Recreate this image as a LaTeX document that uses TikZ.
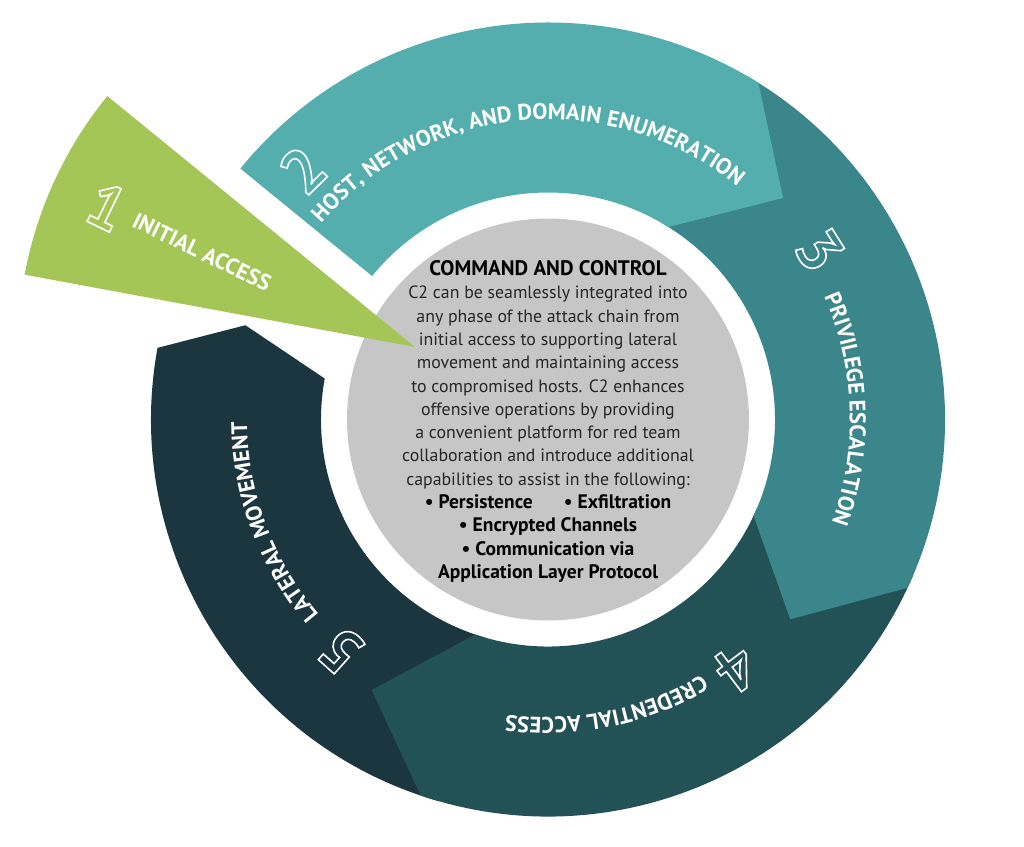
\documentclass[tikz,border=0pt]{standalone}
\usepackage{fontspec}
\setmainfont{PT Sans}
\usetikzlibrary{decorations.text}
\definecolor{accesscol}{HTML}{A4C657}
\definecolor{hostcol}{HTML}{54AEAE}
\definecolor{privcol}{HTML}{3B868A}
\definecolor{credcol}{HTML}{235256}
\definecolor{latcol}{HTML}{1B363E}
\definecolor{hubcol}{HTML}{C6C6C6}
\tikzset{
    hubtext/.style = {align=center, inner sep=0pt, text=black!85,
        font=\fontsize{17.8}{23.3}\selectfont},
    numlabel/.style = {inner sep=0pt, text=white,
        font=\fontsize{62}{62}\selectfont\bfseries},
    phaselabel/.style = {inner sep=0pt, text=white, font=\phasefont},
    phase/.style = {decorate, decoration={text along path, text align=center,
        text color=white, text={|\phasefont|#1}}}
}
\newcommand{\phasefont}{\fontsize{22.5}{22.5}\selectfont\bfseries}
\newcommand{\hubbold}{\bfseries\color{black}\fontsize{19.5}{23.3}\selectfont}
% outlined digits (text render mode 1)
\newcommand{\outl}[1]{\special{pdf:literal direct 1 Tr 1.6 w}#1\special{pdf:literal direct 0 Tr}}

\begin{document}
\begin{tikzpicture}[x=1pt,y=1pt]
\useasboundingbox (-548,-426.5) rectangle (476,419.5);
\fill[hubcol] (0,0) circle[radius=201pt];
%
\fill[latcol] (254:397pt) arc[start angle=254, end angle=169.6, radius=397pt]
    -- (162.7:317pt) -- (169.6:227pt) arc[start angle=169.6, end angle=254, radius=227pt] -- cycle;
\fill[credcol] (-23:397pt) arc[start angle=-23, end angle=-108.7, radius=397pt]
    -- (-123.1:323pt) -- (-108.7:227pt) arc[start angle=-108.7, end angle=-23, radius=227pt] -- cycle;
\fill[privcol] (60:397pt) arc[start angle=60, end angle=-25.1, radius=397pt]
    -- (-39.5:314pt) -- (-25.1:227pt) arc[start angle=-25.1, end angle=60, radius=227pt] -- cycle;
\fill[hostcol] (140.8:397pt) arc[start angle=140.8, end angle=58, radius=397pt]
    -- (43.3:323pt) -- (58:227pt) arc[start angle=58, end angle=140.8, radius=227pt] -- cycle;
\fill[accesscol] (-133,72.5) -- ++(140.8:397pt) arc[start angle=140.8, end angle=169.5, radius=397pt] -- cycle;
%
\path[phase={HOST, NETWORK, AND DOMAIN ENUMERATION}] (145:300pt) arc[start angle=145, end angle=45, radius=300pt];
\path[phase={PRIVILEGE ESCALATION}] (30:302pt) arc[start angle=30, end angle=-26, radius=302pt];
\path[phase={CREDENTIAL ACCESS}] (-50:298pt) arc[start angle=-50, end angle=-107, radius=298pt];
\path[phase={LATERAL MOVEMENT}] (230:301pt) arc[start angle=230, end angle=171, radius=301pt];
\node[phaselabel, rotate=-26] (initial) at (-346,167.5) {INITIAL ACCESS};
%
\node[numlabel, rotate=-26] (n1) at (-441,213) {\outl{1}};
\node[numlabel, rotate=44.5] (n2) at (134.5:350pt) {\outl{2}};
\node[numlabel, rotate=-58] (n3) at (31.9:320pt) {\outl{3}};
\node[numlabel, rotate=-143] (n4) at (-52.9:312pt) {\outl{4}};
\node[numlabel, rotate=138] (n5) at (228.2:310pt) {\outl{5}};
%
\node[hubtext] (cc) at (0,-2) {{\bfseries\color{black}\fontsize{21}{23.3}\selectfont COMMAND AND CONTROL}\\
C2 can be seamlessly integrated into\\
any phase of the attack chain from\\
initial access to supporting lateral\\
movement and maintaining access\\
to compromised hosts. C2 enhances\\
offensive operations by providing\\
a convenient platform for red team\\
collaboration and introduce additional\\
capabilities to assist in the following:\\
{\hubbold • Persistence\hspace{1.6em}• Exfiltration}\\
{\hubbold • Encrypted Channels}\\
{\hubbold • Communication via}\\
{\hubbold Application Layer Protocol}};
\end{tikzpicture}
\end{document}
